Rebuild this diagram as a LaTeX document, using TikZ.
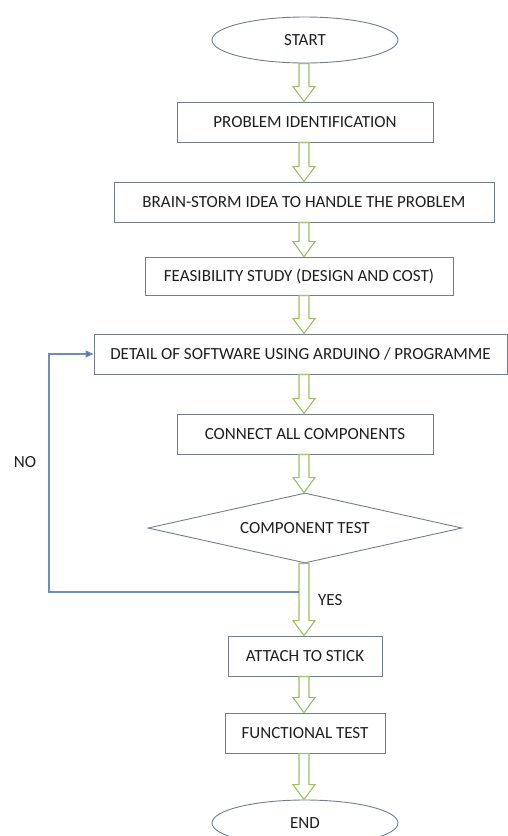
\documentclass[tikz,border=0pt]{standalone}
\usepackage{fontspec}
\setmainfont{Carlito}
\usetikzlibrary{shapes.geometric,arrows.meta,calc}
\definecolor{boxline}{RGB}{112,126,140}
\definecolor{arrgreen}{RGB}{160,190,100}
\definecolor{loopblue}{RGB}{110,140,180}
\definecolor{tipblue}{RGB}{74,120,180}
\definecolor{txt}{RGB}{30,30,30}
\tikzset{
  stepbox/.style={draw=boxline, line width=0.9pt, rectangle, inner sep=0pt, text=txt, font=\fontsize{17}{20}\selectfont},
  term/.style={draw=boxline, line width=0.9pt, ellipse, inner sep=0pt, minimum width=186pt, minimum height=46pt, text=txt, font=\fontsize{17}{20}\selectfont},
  decision/.style={draw=boxline, line width=0.9pt, diamond, inner sep=0pt, aspect=4.5, minimum width=314pt, minimum height=70pt, text=txt, font=\fontsize{17}{20}\selectfont},
  barr/.style={draw=arrgreen, line width=1.1pt, fill=white, line join=miter},
  loopline/.style={draw=loopblue, line width=1.1pt, -{Triangle[length=8pt,width=7pt,fill=tipblue]}},
  lbl/.style={text=txt, inner sep=0pt, font=\fontsize{17}{20}\selectfont}
}
\newcommand\barrow[2]{%
  \path[barr] let \p1=(#1.south), \p2=(#2.north) in
    (304pt-5pt,\y1) -- (304pt-5pt,\y2+15pt) -- (304pt-11pt,\y2+15pt) -- (304pt,\y2)
    -- (304pt+11pt,\y2+15pt) -- (304pt+5pt,\y2+15pt) -- (304pt+5pt,\y1) -- cycle;}
\begin{document}
\begin{tikzpicture}[x=1pt,y=1pt]
\useasboundingbox (0,0) rectangle (508,-836);
\node[term] (start) at (305,-40) {START};
\node[stepbox, minimum width=256pt, minimum height=40pt] (prob) at (305,-122) {PROBLEM IDENTIFICATION};
\node[stepbox, minimum width=380pt, minimum height=40pt] (brain) at (304,-202) {BRAIN-STORM IDEA TO HANDLE THE PROBLEM};
\node[stepbox, minimum width=308pt, minimum height=38pt] (feas) at (299,-276) {FEASIBILITY STUDY (DESIGN AND COST)};
\node[stepbox, minimum width=413pt, minimum height=40pt] (detail) at (300.5,-354) {DETAIL OF SOFTWARE USING ARDUINO / PROGRAMME};
\node[stepbox, minimum width=256pt, minimum height=40pt] (conn) at (305,-434) {CONNECT ALL COMPONENTS};
\node[decision] (test) at (305,-528) {COMPONENT TEST};
\node[stepbox, minimum width=154pt, minimum height=40pt] (attach) at (305,-656) {ATTACH TO STICK};
\node[stepbox, minimum width=160pt, minimum height=40pt] (func) at (305,-733) {FUNCTIONAL TEST};
\node[term] (end) at (305,-823) {END};
\barrow{start}{prob}
\barrow{prob}{brain}
\barrow{brain}{feas}
\barrow{feas}{detail}
\barrow{detail}{conn}
\barrow{conn}{test}
\barrow{test}{attach}
\barrow{attach}{func}
\barrow{func}{end}
\coordinate (j) at (298.5,-592);
\draw[loopline] (j) -- (49,-592) |- (detail.west);
\node[lbl] (no) at (25,-462) {NO};
\node[lbl, anchor=west] (yes) at (318,-600) {YES};
\end{tikzpicture}
\end{document}
